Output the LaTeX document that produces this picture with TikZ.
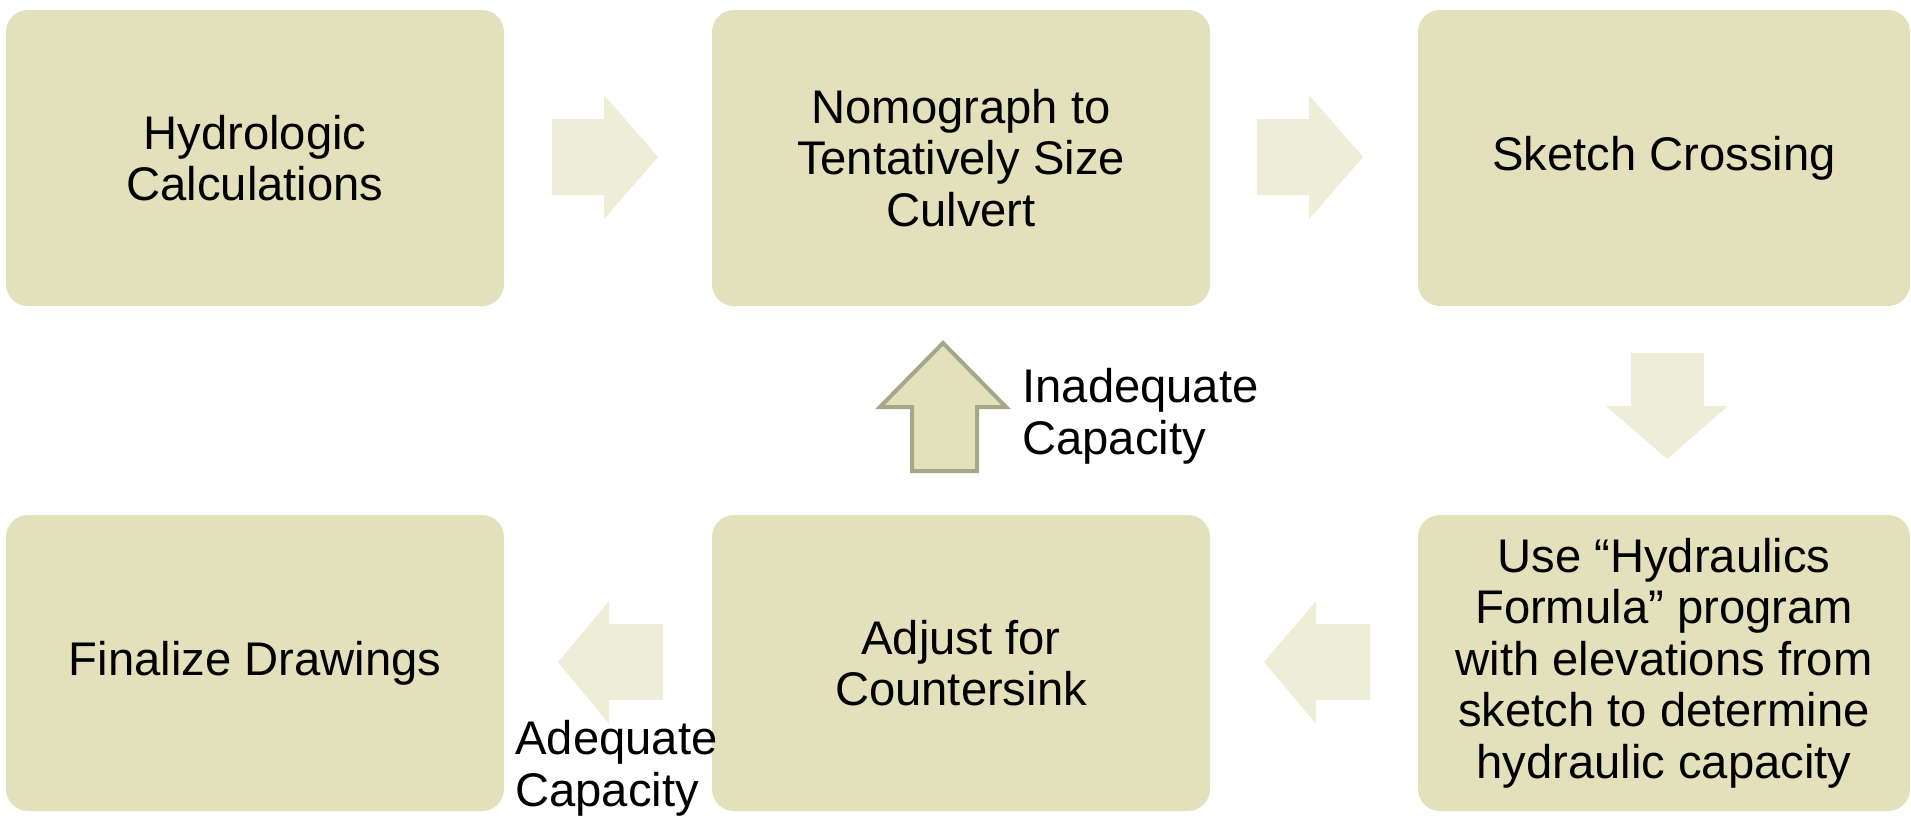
\documentclass[tikz,border=0pt]{standalone}
\usepackage{fontspec}
\setmainfont{Liberation Sans}
\definecolor{boxfill}{HTML}{E2E1BB}
\definecolor{arrfill}{HTML}{EDEDD8}
\definecolor{arrline}{HTML}{A6A688}
\begin{document}
\begin{tikzpicture}[x=0.5pt,y=-0.5pt,
  stepbox/.style={rectangle,rounded corners=11pt,fill=boxfill,draw=none,
    minimum width=249pt,minimum height=148pt,align=center,inner sep=0pt,
    font=\fontsize{23.6}{25.8}\selectfont},
  lastbox/.style={stepbox,minimum width=246pt},
  lbl/.style={align=left,inner sep=0pt,anchor=north west,
    font=\fontsize{23.6}{25.8}\selectfont},
  blockarrow/.style={fill=arrfill,draw=none}]
\useasboundingbox (0,0) rectangle (1911,816);
\node[stepbox] (b1) at (255,158) {Hydrologic\\Calculations};
\node[stepbox] (b2) at (961,158) {Nomograph to\\Tentatively Size\\Culvert};
\node[lastbox] (b3) at (1664,158) {Sketch Crossing};
\node[stepbox] (b4) at (255,663) {Finalize Drawings};
\node[stepbox] (b5) at (961,663) {Adjust for\\Countersink};
\node[lastbox] (b6) at (1664,663) {Use “Hydraulics\\Formula” program\\with elevations from\\sketch to determine\\hydraulic capacity};
% right arrows
\fill[blockarrow] (552,119) -- (604,119) -- (604,95) -- (658,157) -- (604,219) -- (604,195) -- (552,195) -- cycle;
\fill[blockarrow] (1257,119) -- (1309,119) -- (1309,95) -- (1363,157) -- (1309,219) -- (1309,195) -- (1257,195) -- cycle;
% down arrow
\fill[blockarrow] (1631,353) -- (1704,353) -- (1704,406) -- (1728,406) -- (1667,459) -- (1606,406) -- (1631,406) -- cycle;
% left arrows
\fill[blockarrow] (1370,624) -- (1316,624) -- (1316,601) -- (1264,662) -- (1316,724) -- (1316,700) -- (1370,700) -- cycle;
\fill[blockarrow] (663,624) -- (609,624) -- (609,601) -- (558,662) -- (609,724) -- (609,700) -- (663,700) -- cycle;
% up arrow outlined
\filldraw[fill=boxfill,draw=arrline,line width=2pt,line join=miter]
  (912,471) -- (912,407) -- (880,407) -- (943,343) -- (1006,407) -- (977,407) -- (977,471) -- cycle;
\node[lbl] (l1) at (1022,368) {Inadequate\\Capacity};
\node[lbl] (l2) at (515,720) {Adequate\\Capacity};
\end{tikzpicture}
\end{document}
